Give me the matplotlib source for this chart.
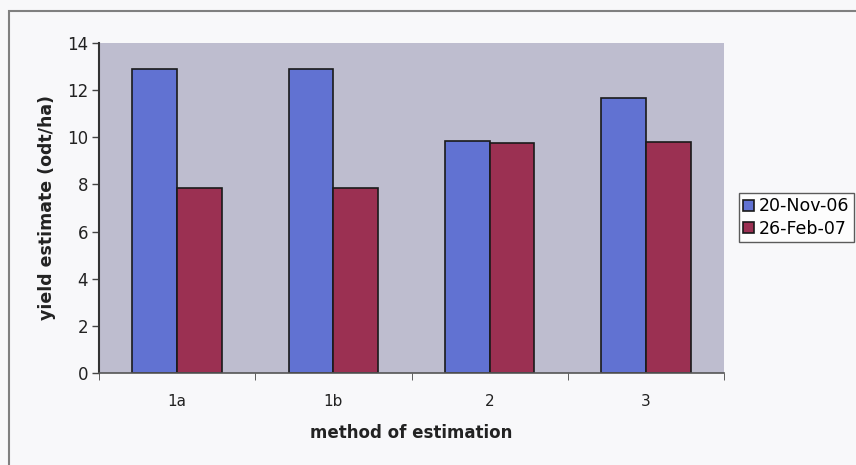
import matplotlib
matplotlib.use("Agg")
import matplotlib.pyplot as plt
from matplotlib.patches import Rectangle
import numpy as np

methods = ["1a", "1b", "2", "3"]
nov06 = [12.9, 12.9, 9.85, 11.65]
feb07 = [7.85, 7.85, 9.75, 9.8]
series_names = ["20-Nov-06", "26-Feb-07"]
yticks = [0, 2, 4, 6, 8, 10, 12, 14]

plt.rcParams["font.family"] = ["DejaVu Sans"]

fig = plt.figure(figsize=(8.56, 4.65), dpi=100, facecolor="#f8f8fa")
W, H = 856, 465
# outer chart border (cropped on right/bottom)
fig.patches.append(Rectangle((9 / W, -0.05), 1.0, 1 - 11 / H + 0.05, transform=fig.transFigure,
                             fill=False, edgecolor="#808080", linewidth=1.5))

ax = fig.add_axes([99 / W, (H - 373) / H, (724 - 99) / W, (373 - 43) / H])
ax.set_facecolor("#bebdcf")

x = np.arange(len(methods))
w = 1 / 3.5
ax.bar(x - w / 2, nov06, w, color="#6172d2", edgecolor="#1a1a1a", linewidth=1.2, label=series_names[0])
ax.bar(x + w / 2, feb07, w, color="#9b3052", edgecolor="#1a1a1a", linewidth=1.2, label=series_names[1])

ax.set_xlim(-0.5, len(methods) - 0.5)
ax.set_ylim(0, 14)
ax.set_yticks(yticks)
ax.set_yticklabels([str(v) for v in yticks], fontsize=12, color="#222222")
ax.set_xticks(x)
ax.set_xticklabels(methods, fontsize=11, color="#222222")
ax.tick_params(axis="x", length=0, pad=15)
ax.set_xticks(np.arange(len(methods) + 1) - 0.5, minor=True)
ax.tick_params(axis="x", which="minor", length=5, direction="out", color="#444444")
ax.tick_params(axis="y", length=5, direction="out", color="#444444", width=1, pad=3)

for s in ["top", "right"]:
    ax.spines[s].set_visible(False)
ax.spines["left"].set_color("#333333")
ax.spines["left"].set_linewidth(1.5)
ax.spines["bottom"].set_color("#555555")
ax.spines["bottom"].set_linewidth(1.2)

ax.set_xlabel("method of estimation", fontsize=12, fontweight="bold", color="#222222", labelpad=11)
ax.set_ylabel("yield estimate (odt/ha)", fontsize=12.5, fontweight="bold", color="#222222", labelpad=8)

leg = fig.legend(loc="upper left", bbox_to_anchor=(739 / W, 1 - 193 / H), fontsize=12.5,
                 frameon=True, fancybox=False, edgecolor="#333333", handlelength=0.6,
                 handleheight=0.6, handletextpad=0.3, borderpad=0.25, labelspacing=0.25,
                 borderaxespad=0)
leg.get_frame().set_linewidth(1.0)
leg.get_frame().set_facecolor("white")

fig.savefig("out.png", dpi=100, facecolor=fig.get_facecolor())
